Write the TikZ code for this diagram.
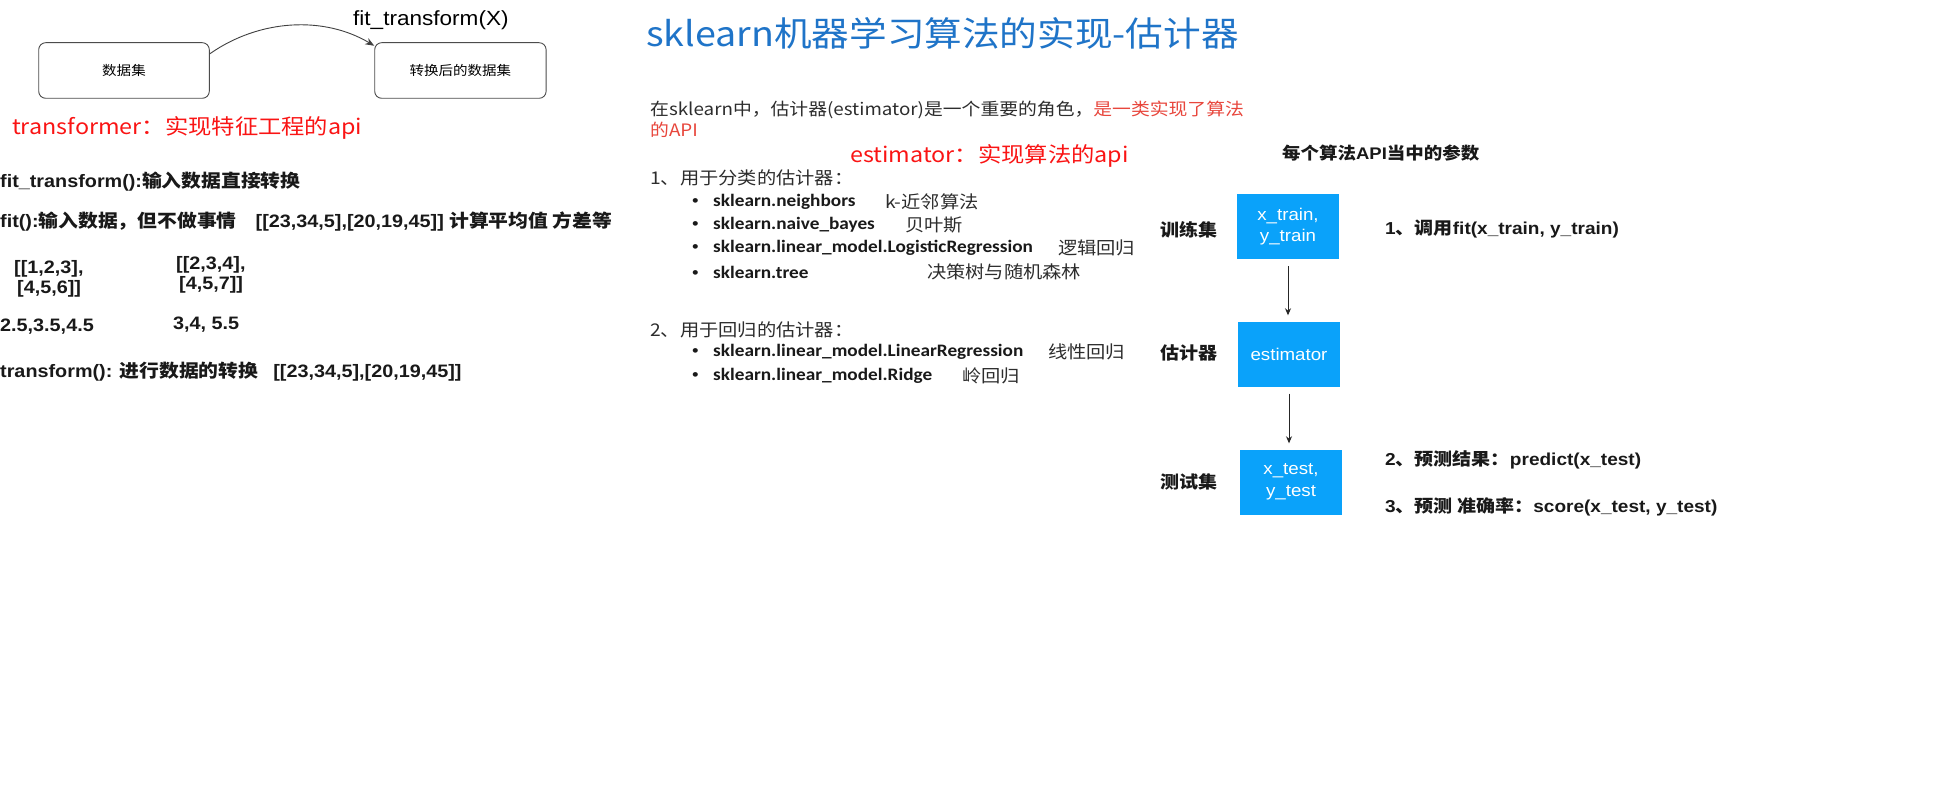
\documentclass[tikz,border=0pt]{standalone}
\usepackage{fontspec}
\setmainfont{Liberation Sans}[FakeStretch=1.1]
\newfontfamily\cjk{Noto Sans CJK SC}[FakeStretch=1.1]
\newfontfamily\calfont{Carlito}[FakeStretch=1.1]
\usetikzlibrary{arrows.meta}
\definecolor{titleblue}{RGB}{31,116,200}
\definecolor{boxblue}{RGB}{10,162,250}
\definecolor{redtxt}{RGB}{250,20,20}
\definecolor{lightred}{RGB}{232,70,60}
\definecolor{graytxt}{RGB}{45,45,45}
\newcommand\fsz[2]{\fontsize{#1}{#2}\selectfont}
\newcommand\bul{\makebox[21pt][l]{{\normalfont\fsz{17}{19}•}}}
\tikzset{
  rbox/.style={draw=black!70, line width=0.9pt, rounded corners=7pt, minimum height=55.6pt, inner sep=0pt, font=\cjk\fsz{13.2}{16}},
  bbox/.style={fill=boxblue, text=white, minimum width=102pt, minimum height=65pt, inner sep=0pt, align=center, font=\fsz{17}{21.5}},
  lbl/.style={anchor=west, inner sep=0pt},
  leftb/.style={lbl, font=\bfseries\fsz{18}{19.5}, text=black!90},
  item/.style={lbl, font=\calfont\bfseries\fsz{17.5}{19}, text=black!90},
  desc/.style={lbl, font=\cjk\fsz{17.5}{19}, text=graytxt},
  rlbl/.style={lbl, font=\bfseries\fsz{17.3}{20}, text=black!90},
  redlbl/.style={lbl, text=redtxt, font=\cjk\fsz{21.2}{24}},
  conn/.style={draw=black!75, line width=0.9pt, -{Stealth[length=9pt,width=7pt]}},
  arr/.style={draw=black!85, line width=1pt, -{Stealth[length=7pt,width=6pt]}, shorten <=7pt, shorten >=6pt}
}
\begin{document}
\begin{tikzpicture}[x=1pt,y=-1pt]
\useasboundingbox[fill=white] (0,0) rectangle (1938,810);

% ---- transformer part
\node[rbox, minimum width=170.6pt] (d1) at (124,70.5) {数据集};
\node[rbox, minimum width=171.4pt] (d2) at (460.4,70.5) {转换后的数据集};
\node[lbl, font=\fsz{20.5}{24}] (ftx) at (353,20) {fit\_transform(X)};
\draw[conn] (d1.11.6) .. controls +(50,-35) and +(-50,-30) .. (d2.164);
\node[redlbl] (tf) at (12,128) {transformer：实现特征工程的api};

\node[leftb] (l1) at (0,182) {fit\_transform():{\cjk 输入数据直接转换}};
\node[leftb] (l2) at (0,222) {fit():{\cjk 输入数据，但不做事情}\hspace{19pt}[[23,34,5],[20,19,45]] {\cjk 计算平均值 方差等}};
\node[leftb, align=left] (m1) at (14,279) {[[1,2,3],\\\hspace{3pt}[4,5,6]]};
\node[leftb, align=left] (m2) at (176,275) {[[2,3,4],\\\hspace{3pt}[4,5,7]]};
\node[leftb] (v1) at (0,327) {2.5,3.5,4.5};
\node[leftb] (v2) at (173,325) {3,4, 5.5};
\node[leftb] (l3) at (0,372) {transform(): {\cjk 进行数据的转换}\hspace{15pt}[[23,34,5],[20,19,45]]};

% ---- estimator part
\node[lbl, text=titleblue, font=\cjk\fsz{34.2}{40}] (title) at (646,33) {sklearn机器学习算法的实现-估计器};
\node[lbl, font=\cjk\fsz{17.1}{20}, text=graytxt] (intro1) at (650,110) {在sklearn中，估计器(estimator)是一个重要的角色，\textcolor{lightred}{是一类实现了算法}};
\node[lbl, font=\cjk\fsz{17.1}{20}, text=lightred] (intro2) at (650,130) {的API};
\node[redlbl] (est) at (850,156) {estimator：实现算法的api};

\node[desc] (c1) at (650,178) {1、用于分类的估计器：};
\node[item] (i1) at (692,202) {\bul sklearn.neighbors};
\node[desc] (e1) at (885,202) {k-近邻算法};
\node[item] (i2) at (692,225) {\bul sklearn.naive\_bayes};
\node[desc] (e2) at (905,225) {贝叶斯};
\node[item] (i3) at (692,248) {\bul sklearn.linear\_model.LogisticRegression};
\node[desc] (e3) at (1058,248) {逻辑回归};
\node[item] (i4) at (692,272) {\bul sklearn.tree};
\node[desc] (e4) at (927,272) {决策树与随机森林};

\node[desc] (c2) at (650,330) {2、用于回归的估计器：};
\node[item] (i5) at (692,352) {\bul sklearn.linear\_model.LinearRegression};
\node[desc] (e5) at (1048,352) {线性回归};
\node[item] (i6) at (692,376) {\bul sklearn.linear\_model.Ridge};
\node[desc] (e6) at (962,376) {岭回归};

% ---- API parameters
\node[lbl, font=\bfseries\fsz{16.8}{19}, text=black!90] (ph) at (1282,153) {{\cjk 每个算法}API{\cjk 当中的参数}};
\node[bbox] (b1) at (1288,226.5) {x\_train,\\y\_train};
\node[bbox] (b2) at (1289,354) {estimator};
\node[bbox] (b3) at (1291,482) {x\_test,\\y\_test};
\draw[arr] (b1.south) -- (b1.south |- b2.north);
\draw[arr] (b2.south) -- (b2.south |- b3.north);
\node[rlbl, font=\cjk\bfseries\fsz{17.3}{20}] (s1) at (1160,230) {训练集};
\node[rlbl, font=\cjk\bfseries\fsz{17.3}{20}] (s2) at (1160,353) {估计器};
\node[rlbl, font=\cjk\bfseries\fsz{17.3}{20}] (s3) at (1160,482) {测试集};
\node[rlbl] (r1) at (1385,229) {1{\cjk 、调用}fit(x\_train, y\_train)};
\node[rlbl] (r2) at (1385,460) {2{\cjk 、预测结果：}predict(x\_test)};
\node[rlbl] (r3) at (1385,507) {3{\cjk 、预测 准确率：}score(x\_test, y\_test)};
\end{tikzpicture}
\end{document}
